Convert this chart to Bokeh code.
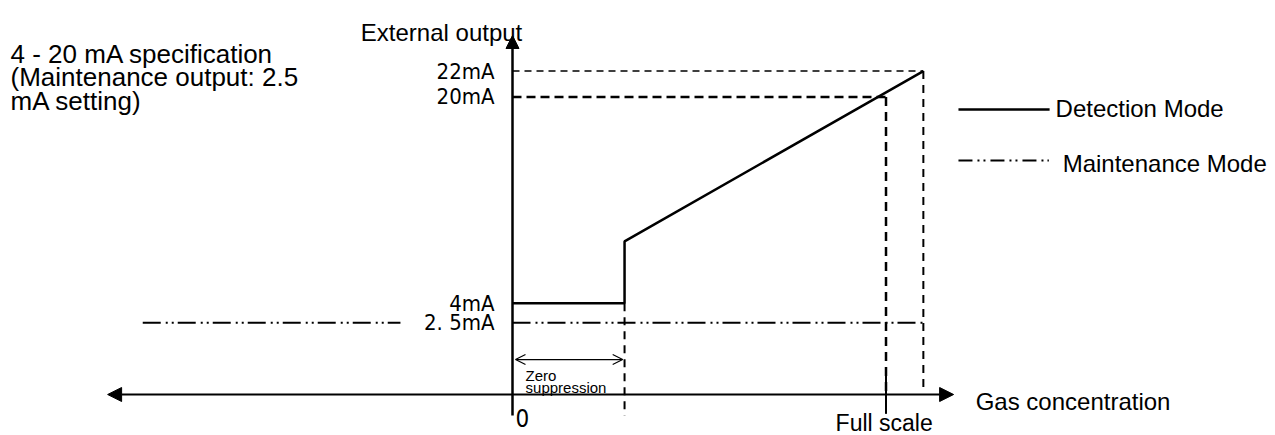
from bokeh.plotting import figure
from bokeh.models import Range1d, Arrow, NormalHead, OpenHead
from bokeh.core.properties import value
from bokeh.embed import file_html
from bokeh.resources import INLINE

# ---------------- data (x: gas concentration in % of full scale, y: output in mA)
full_scale = 100
zero_suppression = 30
over_range = 110
levels_mA = [22, 20, 4, 2.5]
level_labels = ["22mA", "20mA", "4mA", "2. 5mA"]
detection_x = [0, 30, 30, 110]
detection_y = [4, 4, 8.8, 22]
maintenance_x = [0, 110]
maintenance_y = [2.5, 2.5]
maintenance_left_x = [-99, -30]
axis_x = [-108.4, 118.1]
axis_y_mA = -3.07
yaxis_span = [-4.7, 24.76]

title_lines = ["4 - 20 mA specification", "(Maintenance output: 2.5", "mA setting)"]
legend_labels = ["Detection Mode", "Maintenance Mode"]

# ---------------- figure
p = figure(width=1275, height=435,
           x_range=Range1d(-137.08, 204.28), y_range=Range1d(-6.248, 27.473),
           x_axis_type=None, y_axis_type=None,
           toolbar_location=None, output_backend="svg",
           min_border=0, outline_line_color=None)
p.background_fill_color = "white"
p.border_fill_color = "white"

BLACK = "#000000"
ARIAL = value("Liberation Sans")
NARROW = value("DejaVu Sans Condensed, Liberation Sans")

# axes with arrow heads
p.add_layout(Arrow(x_start=axis_x[0], y_start=axis_y_mA, x_end=axis_x[1], y_end=axis_y_mA,
                   line_width=2, line_color=BLACK,
                   start=NormalHead(size=14, fill_color=BLACK, line_color=BLACK),
                   end=NormalHead(size=14, fill_color=BLACK, line_color=BLACK)))
p.add_layout(Arrow(x_start=0, y_start=yaxis_span[0], x_end=0, y_end=yaxis_span[1],
                   line_width=2.5, line_color=BLACK, start=None,
                   end=NormalHead(size=13, fill_color=BLACK, line_color=BLACK)))

# guide lines
p.line([0, over_range], [levels_mA[0], levels_mA[0]], line_color=BLACK, line_width=1.5, line_dash="7 5")
p.line([0, full_scale], [levels_mA[1], levels_mA[1]], line_color=BLACK, line_width=2.5, line_dash="9 5")
p.line([full_scale, full_scale], [levels_mA[1], axis_y_mA], line_color=BLACK, line_width=2.5, line_dash="9 6")
p.line([full_scale, full_scale], [axis_y_mA + 2.0, yaxis_span[0] + 0.13], line_color=BLACK, line_width=2)
p.line([over_range, over_range], [levels_mA[0], axis_y_mA + 0.55], line_color=BLACK, line_width=2, line_dash="8 6")
p.line([zero_suppression, zero_suppression], [levels_mA[2], yaxis_span[0]], line_color=BLACK, line_width=2, line_dash="8 6")

# maintenance mode (dash-dot-dot)
p.line(maintenance_x, maintenance_y, line_color=BLACK, line_width=2, line_dash="18 5 2 4 2 4")
p.line(maintenance_left_x, maintenance_y, line_color=BLACK, line_width=2, line_dash="18 5 2 4 2 4")

# detection mode
p.line(detection_x, detection_y, line_color=BLACK, line_width=2.5)

# zero suppression double arrow
p.add_layout(Arrow(x_start=0.8, y_start=-0.36, x_end=zero_suppression - 0.5, y_end=-0.36,
                   line_width=1.2, line_color=BLACK,
                   start=OpenHead(size=10, line_width=1.2, line_color=BLACK),
                   end=OpenHead(size=10, line_width=1.2, line_color=BLACK)))

# level labels
p.text(x=[-4.8] * len(levels_mA), y=levels_mA, text=level_labels,
       text_font=NARROW, text_font_size="22px", text_align="right",
       text_baseline="middle", text_color=BLACK)
p.text(x=[0.8], y=[-4.89], text=["0"], text_font=NARROW, text_font_size="24px",
       text_align="left", text_baseline="middle", text_color=BLACK)

# titles / annotations
p.text(x=[-19.0], y=[25.0], text=["External output"], text_font=ARIAL,
       text_font_size="24px", text_align="center", text_baseline="alphabetic", text_color=BLACK)
p.text(x=[-134.4] * 3, y=[23.36, 21.55, 19.72], text=title_lines, text_font=ARIAL,
       text_font_size="26px", text_align="left", text_baseline="alphabetic", text_color=BLACK)
p.text(x=[124.0], y=[-3.6], text=["Gas concentration"], text_font=ARIAL,
       text_font_size="24px", text_align="left", text_baseline="alphabetic", text_color=BLACK)
p.text(x=[86.5], y=[-5.3], text=["Full scale"], text_font=ARIAL,
       text_font_size="23px", text_align="left", text_baseline="alphabetic", text_color=BLACK)
p.text(x=[3.5, 3.5], y=[-1.56, -2.5], text=["Zero", "suppression"], text_font=ARIAL,
       text_font_size="15px", text_align="left", text_baseline="alphabetic", text_color=BLACK)

# legend (drawn manually)
p.line([119.4, 143.8], [19.02, 19.02], line_color=BLACK, line_width=2.5)
p.line([119.4, 143.6], [15.07, 15.07], line_color=BLACK, line_width=2, line_dash="14 5 2 4 2 5")
p.text(x=[145.4, 147.3], y=[19.1, 14.84], text=legend_labels, text_font=ARIAL,
       text_font_size="24px", text_align="left", text_baseline="alphabetic", text_color=BLACK)

open("out.html", "w").write(file_html(p, INLINE))
